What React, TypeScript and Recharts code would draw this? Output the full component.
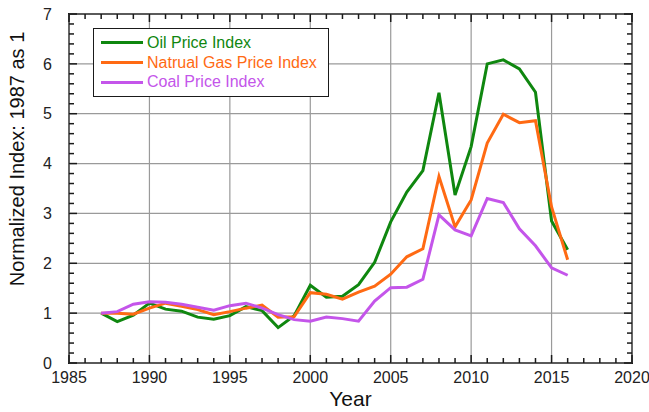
import { LineChart, Line, XAxis, YAxis, Legend, Label, ReferenceLine, ReferenceArea } from 'recharts'

const years = [
  1987, 1988, 1989, 1990, 1991, 1992, 1993, 1994, 1995, 1996, 1997, 1998, 1999, 2000, 2001,
  2002, 2003, 2004, 2005, 2006, 2007, 2008, 2009, 2010, 2011, 2012, 2013, 2014, 2015, 2016,
]

const oilIndex = [
  1.0, 0.83, 0.96, 1.2, 1.08, 1.04, 0.92, 0.88, 0.95, 1.13, 1.05, 0.71, 0.95, 1.56, 1.32,
  1.34, 1.57, 2.02, 2.83, 3.43, 3.86, 5.42, 3.37, 4.34, 6.0, 6.08, 5.9, 5.43, 2.85, 2.27,
]

const gasIndex = [
  1.0, 1.0, 0.98, 1.1, 1.2, 1.14, 1.07, 0.97, 1.03, 1.1, 1.16, 0.92, 0.93, 1.41, 1.38,
  1.28, 1.42, 1.54, 1.78, 2.13, 2.29, 3.74, 2.73, 3.27, 4.41, 4.99, 4.82, 4.86, 3.13, 2.07,
]

const coalIndex = [
  1.0, 1.03, 1.18, 1.23, 1.22, 1.18, 1.12, 1.06, 1.15, 1.2, 1.1, 0.97, 0.87, 0.84, 0.92,
  0.89, 0.84, 1.24, 1.51, 1.52, 1.68, 2.97, 2.67, 2.55, 3.3, 3.22, 2.69, 2.35, 1.91, 1.76,
]

const seriesNames = ['Oil Price Index', 'Natrual Gas Price Index', 'Coal Price Index']

const xMajorTicks = [1985, 1990, 1995, 2000, 2005, 2010, 2015, 2020]
const xAllTicks = [
  1985, 1986, 1987, 1988, 1989, 1990, 1991, 1992, 1993, 1994, 1995, 1996, 1997, 1998, 1999,
  2000, 2001, 2002, 2003, 2004, 2005, 2006, 2007, 2008, 2009, 2010, 2011, 2012, 2013, 2014,
  2015, 2016, 2017, 2018, 2019, 2020,
]
const yMajorTicks = [0, 1, 2, 3, 4, 5, 6, 7]
const yAllTicks = [
  0, 0.2, 0.4, 0.6, 0.8, 1, 1.2, 1.4, 1.6, 1.8, 2, 2.2, 2.4, 2.6, 2.8, 3, 3.2, 3.4, 3.6, 3.8,
  4, 4.2, 4.4, 4.6, 4.8, 5, 5.2, 5.4, 5.6, 5.8, 6, 6.2, 6.4, 6.6, 6.8, 7,
]

const data = years.map((year, i) => ({
  year,
  oil: oilIndex[i],
  gas: gasIndex[i],
  coal: coalIndex[i],
}))

const W = 649
const H = 412
const MARGIN = { top: 14, right: 17, left: 0, bottom: 0 }
const X_AXIS_H = 49
const Y_AXIS_W = 69
const PLOT_TOP = MARGIN.top
const PLOT_BOTTOM = H - MARGIN.bottom - X_AXIS_H
const PLOT_LEFT = MARGIN.left + Y_AXIS_W
const PLOT_RIGHT = W - MARGIN.right

const FONT = '"Liberation Sans", Arial, Helvetica, sans-serif'
const FRAME = '#1a1a1a'
const GRID = '#9a9a9a'
const GREEN = '#0f870f'
const ORANGE = '#ff6a13'
const PURPLE = '#c455ea'

function XTick({ x, y, payload }: any) {
  const major = xMajorTicks.includes(payload.value)
  const len = major ? 8 : 5
  return (
    <g>
      <line x1={x} x2={x} y1={PLOT_BOTTOM} y2={PLOT_BOTTOM - len} stroke={FRAME} strokeWidth={1.5} />
      <line x1={x} x2={x} y1={PLOT_TOP} y2={PLOT_TOP + len} stroke={FRAME} strokeWidth={1.5} />
      {major && (
        <text x={x} y={y} dy="0.71em" textAnchor="middle" fontFamily={FONT} fontSize={16} fill="#222">
          {payload.value}
        </text>
      )}
    </g>
  )
}

function YTick({ x, y, payload }: any) {
  const major = yMajorTicks.includes(payload.value)
  const len = major ? 8 : 5
  return (
    <g>
      <line x1={PLOT_LEFT} x2={PLOT_LEFT + len} y1={y} y2={y} stroke={FRAME} strokeWidth={1.5} />
      <line x1={PLOT_RIGHT} x2={PLOT_RIGHT - len} y1={y} y2={y} stroke={FRAME} strokeWidth={1.5} />
      {major && (
        <text x={x} y={y} dy="0.355em" textAnchor="end" fontFamily={FONT} fontSize={16} fill="#222">
          {payload.value}
        </text>
      )}
    </g>
  )
}

function LegendBox({ payload }: any) {
  const items = [...(payload || [])].sort(
    (a: any, b: any) => seriesNames.indexOf(a.value) - seriesNames.indexOf(b.value),
  )
  return (
    <div
      style={{
        width: 236,
        height: 69,
        boxSizing: 'border-box',
        border: `1.5px solid ${FRAME}`,
        background: '#fff',
        paddingTop: 4,
        fontFamily: FONT,
        fontSize: 16,
      }}
    >
      {items.map((entry: any) => (
        <div key={entry.value} style={{ display: 'flex', alignItems: 'center', height: 19.7 }}>
          <div style={{ width: 42, height: 3, marginLeft: 7, background: entry.color }} />
          <span style={{ marginLeft: 4, color: entry.color, whiteSpace: 'nowrap' }}>{entry.value}</span>
        </div>
      ))}
    </div>
  )
}

function YTitle({ viewBox }: any) {
  const x = viewBox.x + 17
  const y = 159
  return (
    <text
      x={x}
      y={y}
      transform={`rotate(-90, ${x}, ${y})`}
      textAnchor="middle"
      dominantBaseline="central"
      fontFamily={FONT}
      fontSize={20}
      fill="#111"
    >
      Normalized Index: 1987 as 1
    </text>
  )
}

export default function App() {
  return (
    <div style={{ position: 'absolute', left: 0, top: 0 }}>
      <LineChart width={W} height={H} data={data} margin={MARGIN}>
        <XAxis
          xAxisId="x"
          dataKey="year"
          type="number"
          domain={[1985, 2020]}
          ticks={xAllTicks}
          interval={0}
          height={X_AXIS_H}
          tickLine={false}
          tickSize={0}
          tickMargin={9}
          axisLine={false}
          tick={<XTick />}
          allowDataOverflow
        >
          <Label value="Year" position="insideBottom" offset={6} fontSize={21} fontFamily={FONT} fill="#111" />
        </XAxis>
        <YAxis
          yAxisId="y"
          type="number"
          domain={[0, 7]}
          ticks={yAllTicks}
          interval={0}
          width={Y_AXIS_W}
          tickLine={false}
          tickSize={0}
          tickMargin={17}
          axisLine={false}
          tick={<YTick />}
          allowDataOverflow
          label={<YTitle />}
        />

        {xMajorTicks.map((t) => (
          <ReferenceLine key={`gx${t}`} xAxisId="x" yAxisId="y" x={t} stroke={GRID} strokeWidth={1.2} />
        ))}
        {yMajorTicks.map((t) => (
          <ReferenceLine key={`gy${t}`} xAxisId="x" yAxisId="y" y={t} stroke={GRID} strokeWidth={1.2} />
        ))}

        <Line xAxisId="x" yAxisId="y" type="linear" dataKey="oil" name={seriesNames[0]} stroke={GREEN} strokeWidth={3} dot={false} isAnimationActive={false} />
        <Line xAxisId="x" yAxisId="y" type="linear" dataKey="gas" name={seriesNames[1]} stroke={ORANGE} strokeWidth={3} dot={false} isAnimationActive={false} />
        <Line xAxisId="x" yAxisId="y" type="linear" dataKey="coal" name={seriesNames[2]} stroke={PURPLE} strokeWidth={3} dot={false} isAnimationActive={false} />

        <ReferenceArea
          xAxisId="x"
          yAxisId="y"
          x1={1985}
          x2={2020}
          y1={0}
          y2={7}
          fill="none"
          fillOpacity={0}
          stroke={FRAME}
          strokeWidth={2}
        />

        <Legend
          layout="vertical"
          align="center"
          verticalAlign="middle"
          wrapperStyle={{ position: 'absolute', left: 93, top: 28, width: 236, height: 69 }}
          content={<LegendBox />}
        />
      </LineChart>
    </div>
  )
}
